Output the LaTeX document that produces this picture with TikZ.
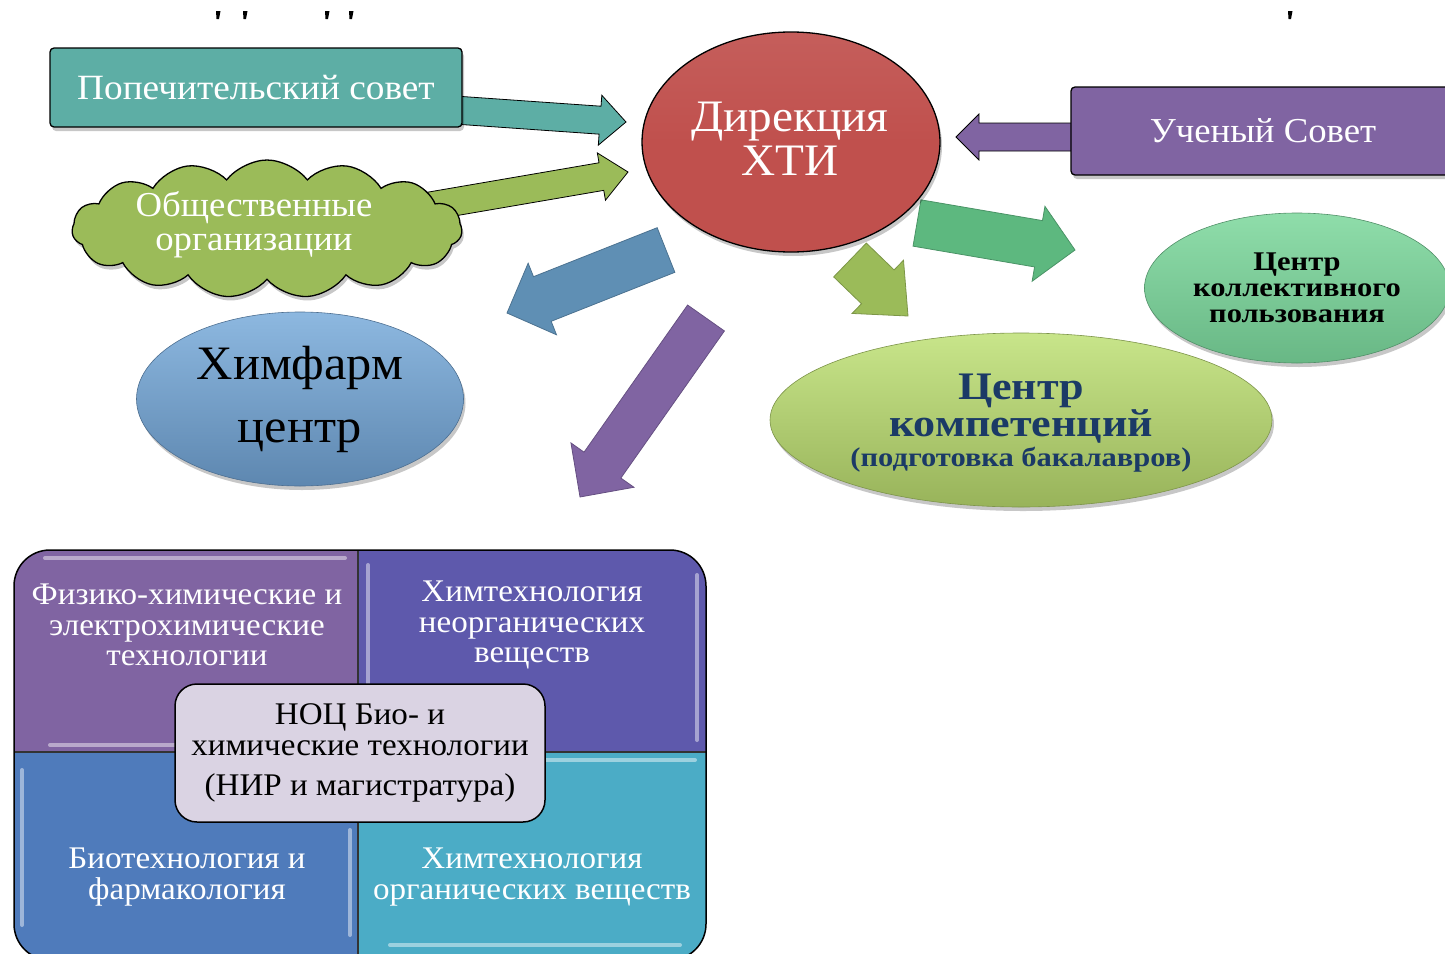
\documentclass[tikz,border=0pt]{standalone}
\usepackage{fontspec}
\setmainfont{Liberation Serif}[FakeStretch=1.05]
\newfontfamily\widebf{Liberation Serif}[FakeStretch=1.13]
\usetikzlibrary{shapes.geometric,shapes.symbols,calc,shadows}
\definecolor{cTeal}{HTML}{5DAEA5}
\definecolor{cOlive}{HTML}{9BBB59}
\definecolor{cRed}{HTML}{C0504D}
\definecolor{cPurple}{HTML}{8064A2}
\definecolor{cSea}{HTML}{5DB87F}
\definecolor{cBlueA}{HTML}{5F8FB4}
\definecolor{cMint}{HTML}{74CC94}
\definecolor{cMintL}{HTML}{8FDDAA}
\definecolor{cLime}{HTML}{B3D36A}
\definecolor{cLimeL}{HTML}{C8E58A}
\definecolor{cSky}{HTML}{6E9FCF}
\definecolor{cSkyL}{HTML}{8DB8E0}
\definecolor{cIndigo}{HTML}{5E59AC}
\definecolor{cBlueQ}{HTML}{4F7BBB}
\definecolor{cCyan}{HTML}{4BACC6}
\definecolor{cLilac}{HTML}{DAD3E3}
\definecolor{cNavy}{HTML}{1B3A66}
\newcommand\setfs[2]{\fontsize{#1}{#2}\selectfont}
\newcommand\blockarrow[6]{%
  \coordinate (ba-h) at ($(#3)!#6!(#2)$);
  \draw[#1] ($(#2)!#4!90:(#3)$) -- ($(ba-h)!#4!90:(#3)$) -- ($(ba-h)!#5!90:(#3)$) -- (#3)
    -- ($(ba-h)!#5!-90:(#3)$) -- ($(ba-h)!#4!-90:(#3)$) -- ($(#2)!#4!-90:(#3)$) -- cycle;}
\pgfdeclarelayer{background}
\pgfsetlayers{background,main}
\tikzset{
  shd/.style={drop shadow={shadow xshift=2pt, shadow yshift=-4pt, opacity=0.22, fill=black}},
  boxnode/.style={rectangle, draw=black, line width=1.3pt, rounded corners=4pt, inner sep=0pt, align=center, text=white, shd},
  ellnode/.style={ellipse, draw=none, inner sep=0pt, align=center, shd},
  quadtext/.style={align=center, text=white, font=\setfs{31.5}{30.5}},
  arr/.style={line width=0.8pt, line join=miter}
}
\begin{document}
\begin{tikzpicture}[x=1pt,y=-1pt]
\useasboundingbox (0,0) rectangle (1445,953);
% fragments of a cut-off title
\foreach \xx in {218,245,327,351,1290}{\fill[black] (\xx-2,11) -- (\xx+2.5,11) -- (\xx+1,19) -- (\xx-1.5,19) -- cycle;}

% top-left nodes
\node[boxnode, fill=cTeal, minimum width=412pt, minimum height=79pt, font=\setfs{35.5}{40}] (pop) at (256,87.5) {Попечительский совет};
\node[cloud, cloud puffs=15, cloud puff arc=105, cloud ignores aspect, draw=black, line width=1.3pt, fill=cOlive,
      minimum width=390pt, minimum height=138pt, inner sep=0pt, shd] (obs) at (267,229) {};
\node[align=center, text=white, font=\setfs{35}{34}] (obst) at (254,225) {Общественные\\организации};

% central node
\node[ellnode, draw=black, line width=1.3pt, top color=cRed!92!white, bottom color=cRed, middle color=cRed,
      minimum width=298pt, minimum height=220pt] (dir) at (791,142) {};
\node[align=center, text=white, font=\setfs{45}{44}] (dirt) at (790,139) {Дирекция\\ХТИ};

% right box
\node[boxnode, fill=cPurple, minimum width=384pt, minimum height=88pt, font=\setfs{35}{40}] (uch) at (1263,131) {Ученый Совет};

% ellipses
\node[ellnode, draw=cMint!70!black, line width=0.6pt, top color=cMintL, bottom color=cMint!90!black,
      minimum width=305pt, minimum height=150pt, font=\widebf\bfseries\setfs{27}{26}, text=black] (ckp) at (1297,288)
      {Центр\\коллективного\\пользования};
\node[ellnode, draw=cLime!70!black, line width=0.6pt, top color=cLimeL, bottom color=cLime!85!black,
      minimum width=502pt, minimum height=174pt] (ckom) at (1021,420) {};
\node[align=center, text=cNavy, font=\widebf\bfseries\setfs{39}{37}] (ckomt) at (1021,423)
      {Центр\\компетенций\\[-7pt]\setfs{27}{30}(подготовка бакалавров)};
\node[ellnode, draw=cSky!70!black, line width=0.6pt, top color=cSkyL, bottom color=cSky!85!black,
      minimum width=327pt, minimum height=174pt, text=black, font=\setfs{48}{63}] (him) at (300,399) {Химфарм\\центр};

% bottom block
\coordinate (bq-tl) at (14,550);
\coordinate (bq-br) at (706,960);
\coordinate (bq-c) at (358,752);
\begin{scope}
  \clip (bq-tl) rectangle (bq-c);
  \fill[cPurple, rounded corners=36pt] (bq-tl) rectangle (bq-br);
\end{scope}
\begin{scope}
  \clip (358,550) rectangle (706,752);
  \fill[cIndigo, rounded corners=36pt] (bq-tl) rectangle (bq-br);
\end{scope}
\begin{scope}
  \clip (14,752) rectangle (358,960);
  \fill[cBlueQ, rounded corners=36pt] (bq-tl) rectangle (bq-br);
\end{scope}
\begin{scope}
  \clip (358,752) rectangle (706,960);
  \fill[cCyan, rounded corners=36pt] (bq-tl) rectangle (bq-br);
\end{scope}
% glossy inner lines
\begin{scope}[white, opacity=0.45, line width=4pt, line cap=round]
  \draw (45,558) -- (345,558);
  \draw (50,745) -- (345,745);
  \draw (368,565) -- (368,738);
  \draw (697,575) -- (697,740);
  \draw (390,760) -- (695,760);
  \draw (390,945) -- (680,945);
  \draw (22,770) -- (22,925);
  \draw (350,830) -- (350,935);
\end{scope}
\draw[black!80, line width=1.5pt] (358,550) -- (358,960) (14,752) -- (706,752);
\draw[black, line width=1.5pt, rounded corners=36pt] (bq-tl) rectangle (bq-br);

\node[quadtext] (q1) at (187,625) {Физико-химические и\\электрохимические\\технологии};
\node[quadtext] (q2) at (532,625) {Химтехнология\\неорганических\\веществ};
\node[quadtext] (q3) at (187,877) {Биотехнология и\\фармакология};
\node[quadtext] (q4) at (532,877) {Химтехнология\\органических веществ};

\node[rectangle, rounded corners=22pt, draw=black, line width=1.5pt, fill=cLilac, minimum width=370pt, minimum height=138pt,
      inner sep=0pt, align=center, text=black, font=\setfs{31.5}{30.5}] (noc) at (360,753)
      {НОЦ Био- и\\химические технологии\\[10pt](НИР и магистратура)};

% arrow end points
\coordinate (a1t) at (440,109);  \coordinate (a1h) at (626,122);
\coordinate (a2t) at (430,206);  \coordinate (a2h) at (628,172);
\coordinate (a3t) at (1090,137); \coordinate (a3h) at (956,137);
\coordinate (a4t) at (917,223);  \coordinate (a4h) at (1075,250);
\coordinate (a5t) at (850,260);  \coordinate (a5h) at (908,316);
\coordinate (a6t) at (666,250);  \coordinate (a6h) at (507,313);
\coordinate (a7t) at (706,318);  \coordinate (a7h) at (580,497);

\begin{pgfonlayer}{background}
  \blockarrow{arr, draw=black, fill=cTeal}{a1t}{a1h}{14pt}{25pt}{26pt}
  \blockarrow{arr, draw=black, fill=cOlive}{a2t}{a2h}{14pt}{24pt}{27pt}
  \blockarrow{arr, draw=black, fill=cPurple}{a3t}{a3h}{14pt}{23pt}{23pt}
  \blockarrow{arr, draw=cSea!80!black, fill=cSea}{a4t}{a4h}{23.5pt}{38pt}{37pt}
  \blockarrow{arr, draw=cOlive!80!black, fill=cOlive}{a5t}{a5h}{23.5pt}{37pt}{42pt}
  \blockarrow{arr, draw=cBlueA!80!black, fill=cBlueA}{a6t}{a6h}{24pt}{38.5pt}{38pt}
  \blockarrow{arr, draw=cPurple!80!black, fill=cPurple}{a7t}{a7h}{22.5pt}{38.5pt}{39pt}
\end{pgfonlayer}
\end{tikzpicture}
\end{document}
